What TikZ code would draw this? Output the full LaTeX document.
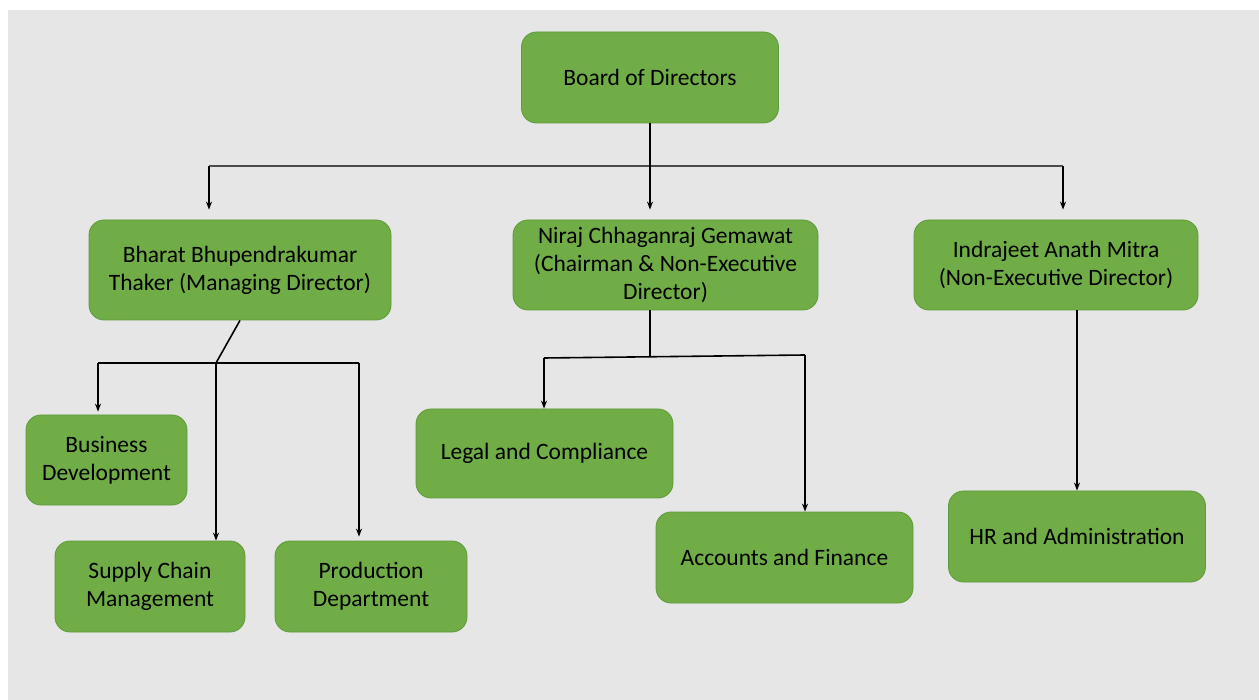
\documentclass[tikz,border=0pt]{standalone}
\usepackage{fontspec}
\setmainfont{Carlito}
\usetikzlibrary{arrows.meta}

\definecolor{pagegray}{HTML}{E6E6E6}
\definecolor{boxgreen}{HTML}{70AD47}
\definecolor{boxedge}{HTML}{5E9A3A}
\definecolor{bargray}{HTML}{4A4A4A}

\begin{document}
\begin{tikzpicture}[x=1pt,y=-1pt,>={Stealth[length=8pt,width=6pt]},
  line width=1.6pt,
  org box/.style={rectangle,rounded corners=15pt,fill=boxgreen,draw=boxedge,line width=0.8pt,
    align=center,font=\fontsize{23.5}{28}\selectfont,inner sep=0pt},
  link/.style={draw=black},
  arrow link/.style={->,draw=black}]
  \useasboundingbox (0,0) rectangle (1259,700);
  \fill[white] (0,0) rectangle (1259,700);
  \fill[pagegray] (8,10) rectangle (1259,700);
  % boxes
  \node[org box, minimum width=257pt, minimum height=91pt] (board) at (650,77.5) {Board of Directors};
  \node[org box, minimum width=302pt, minimum height=100pt] (bharat) at (240,270) {Bharat Bhupendrakumar\\Thaker (Managing Director)};
  \node[org box, minimum width=305pt, minimum height=90pt] (niraj) at (665.5,265) {Niraj Chhaganraj Gemawat\\(Chairman \& Non-Executive\\Director)};
  \node[org box, minimum width=284pt, minimum height=90pt] (indra) at (1056,265) {Indrajeet Anath Mitra\\(Non-Executive Director)};
  \node[org box, minimum width=161pt, minimum height=90pt] (busdev) at (106.5,460) {Business\\Development};
  \node[org box, minimum width=190pt, minimum height=91pt] (supply) at (150,586.5) {Supply Chain\\Management};
  \node[org box, minimum width=192pt, minimum height=91pt] (prod) at (371,586.5) {Production\\Department};
  \node[org box, minimum width=257pt, minimum height=89pt] (legal) at (544.5,453.5) {Legal and Compliance};
  \node[org box, minimum width=257pt, minimum height=91pt] (accts) at (784.5,557.5) {Accounts and Finance};
  \node[org box, minimum width=257pt, minimum height=91pt] (hr) at (1077,536.5) {HR and Administration};
  % junctions
  \coordinate (barL) at (209,166);
  \coordinate (barR) at (1063,166);
  \coordinate (bhJ) at (216,363);
  \coordinate (bhL) at (98,363);
  \coordinate (bhR) at (359,363);
  \coordinate (njJ) at (650,357);
  \coordinate (njL) at (544,358);
  \coordinate (njR) at (805,355);
  % board level
  \draw[draw=bargray,line width=1.4pt] (barL) -- (barR);
  \draw[arrow link,shorten >=10pt] (board.south) -- (board.south |- niraj.north);
  \draw[arrow link,shorten >=10pt] (barL) -- (barL |- bharat.north);
  \draw[arrow link,shorten >=10pt] (barR) -- (barR |- indra.north);
  % managing director
  \draw[link] (bharat.south) -- (bhJ);
  \draw[link] (bhL) -- (bhR);
  \draw[arrow link,shorten >=3pt] (bhL) -- (bhL |- busdev.north);
  \draw[arrow link] (bhJ) -- (bhJ |- supply.north);
  \draw[arrow link,shorten >=4pt] (bhR) -- (bhR |- prod.north);
  % chairman
  \draw[link] (njJ |- niraj.south) -- (njJ);
  \draw[link] (njL) -- (njR);
  \draw[arrow link] (njL) -- (njL |- legal.north);
  \draw[arrow link] (njR) -- (njR |- accts.north);
  % non-executive director
  \draw[arrow link] (hr.north |- indra.south) -- (hr.north);
\end{tikzpicture}
\end{document}
